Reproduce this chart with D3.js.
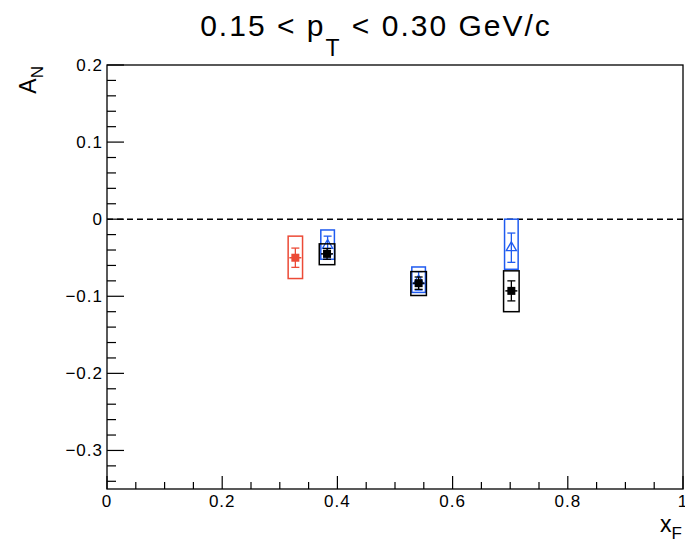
<!DOCTYPE html>
<html>
<head>
<meta charset="utf-8">
<script src="https://cdn.jsdelivr.net/npm/d3@7"></script>
<style>
  body { margin: 0; background: #fff; }
  svg text { font-family: "Liberation Sans", Arial, sans-serif; fill: #000; }
</style>
</head>
<body>
<main></main>
<script>
// x_F bins and A_N values
const redX = [0.327];
const redY = [-0.050];
const redStat = [0.0125];
const redSysTop = [-0.022];
const redSysBot = [-0.077];

const blueX = [0.383, 0.541, 0.702];
const blueY = [-0.034, -0.080, -0.037];
const blueStat = [0.012, 0.012, 0.019];
const blueSysTop = [-0.014, -0.062, 0.0];
const blueSysBot = [-0.052, -0.095, -0.065];

const blackX = [0.382, 0.541, 0.702];
const blackY = [-0.045, -0.083, -0.093];
const blackStat = [0.007, 0.008, 0.013];
const blackSysTop = [-0.032, -0.068, -0.067];
const blackSysBot = [-0.059, -0.099, -0.120];

const xTicks = [0, 0.2, 0.4, 0.6, 0.8, 1];
const yTicks = [-0.3, -0.2, -0.1, 0, 0.1, 0.2];

const margin = { top: 65, right: 2, bottom: 53, left: 107 };
const width = 685 - margin.left - margin.right;
const height = 542 - margin.top - margin.bottom;

const svg = d3.select('main').append('svg')
  .attr('width', 685)
  .attr('height', 542);

const g = svg.append('g')
  .attr('transform', `translate(${margin.left}, ${margin.top})`);

const x = d3.scaleLinear().domain([0, 1]).range([0, width]);
const y = d3.scaleLinear().domain([-0.35, 0.2]).range([height, 0]);

// frame
g.append('rect')
  .attr('width', width)
  .attr('height', height)
  .attr('fill', 'none')
  .attr('stroke', '#000')
  .attr('stroke-width', 1.3);

// x ticks (inside, pointing up)
const xMinor = d3.range(0, 1.0001, 0.05);
g.selectAll('.xtick').data(xMinor).enter().append('line')
  .attr('x1', (d) => x(d)).attr('x2', (d) => x(d))
  .attr('y1', height)
  .attr('y2', (d, i) => height - (i % 4 === 0 ? 13 : 7))
  .attr('stroke', '#000').attr('stroke-width', 1.2);

g.selectAll('.xlabel').data(xTicks).enter().append('text')
  .attr('x', (d) => x(d))
  .attr('y', height + 18)
  .attr('text-anchor', 'middle')
  .attr('font-size', 17)
  .attr('letter-spacing', 1)
  .text((d) => d3.format('~g')(d));

// y ticks (inside, pointing right)
const yMinor = d3.range(-0.34, 0.2001, 0.02);
g.selectAll('.ytick').data(yMinor).enter().append('line')
  .attr('x1', 0)
  .attr('x2', (d) => (Math.abs(Math.round(d * 100) % 10) === 0 ? 17 : 9))
  .attr('y1', (d) => y(d)).attr('y2', (d) => y(d))
  .attr('stroke', '#000').attr('stroke-width', 1.2);

g.selectAll('.ylabel').data(yTicks).enter().append('text')
  .attr('x', -4)
  .attr('y', (d) => y(d) + 6)
  .attr('text-anchor', 'end')
  .attr('font-size', 17)
  .attr('letter-spacing', 1)
  .text((d) => (d < 0 ? '\u2212' + d3.format('~g')(-d) : d3.format('~g')(d)));

// zero line
g.append('line')
  .attr('x1', 0).attr('x2', width)
  .attr('y1', y(0)).attr('y2', y(0))
  .attr('stroke', '#000')
  .attr('stroke-width', 1.5)
  .attr('stroke-dasharray', '6,4');

function drawSeries(xs, ys, stat, sysTop, sysBot, color, halfW, marker) {
  const data = xs.map((d, i) => ({ x: d, y: ys[i], s: stat[i], top: sysTop[i], bot: sysBot[i] }));
  const s = g.append('g');

  // systematic boxes
  s.selectAll('.sys').data(data).enter().append('rect')
    .attr('x', (d) => x(d.x - halfW))
    .attr('width', (d) => x(d.x + halfW) - x(d.x - halfW))
    .attr('y', (d) => y(d.top))
    .attr('height', (d) => y(d.bot) - y(d.top))
    .attr('fill', 'none')
    .attr('stroke', color)
    .attr('stroke-width', 1.5);

  // stat error bars with caps
  s.selectAll('.err').data(data).enter().append('line')
    .attr('x1', (d) => x(d.x)).attr('x2', (d) => x(d.x))
    .attr('y1', (d) => y(d.y + d.s)).attr('y2', (d) => y(d.y - d.s))
    .attr('stroke', color).attr('stroke-width', 1.3);
  [1, -1].forEach((k) => {
    s.selectAll('.cap').data(data).enter().append('line')
      .attr('x1', (d) => x(d.x) - 4).attr('x2', (d) => x(d.x) + 4)
      .attr('y1', (d) => y(d.y + k * d.s)).attr('y2', (d) => y(d.y + k * d.s))
      .attr('stroke', color).attr('stroke-width', 1.3);
  });

  if (marker === 'square') {
    // ROOT-style x error bar across the marker
    s.selectAll('.xerr').data(data).enter().append('line')
      .attr('x1', (d) => x(d.x) - 6).attr('x2', (d) => x(d.x) + 6)
      .attr('y1', (d) => y(d.y)).attr('y2', (d) => y(d.y))
      .attr('stroke', color).attr('stroke-width', 1.5);
    s.selectAll('.mk').data(data).enter().append('rect')
      .attr('x', (d) => x(d.x) - 4)
      .attr('y', (d) => y(d.y) - 4)
      .attr('width', 8).attr('height', 8)
      .attr('fill', color);
  } else {
    s.selectAll('.mk').data(data).enter().append('path')
      .attr('d', d3.symbol().type(d3.symbolTriangle).size(45))
      .attr('transform', (d) => `translate(${x(d.x)}, ${y(d.y)})`)
      .attr('fill', 'none')
      .attr('stroke', color)
      .attr('stroke-width', 1.3);
  }
}

drawSeries(redX, redY, redStat, redSysTop, redSysBot, '#ec4a36', 0.0125, 'square');
drawSeries(blueX, blueY, blueStat, blueSysTop, blueSysBot, '#1f5bf0', 0.0118, 'triangle');
drawSeries(blackX, blackY, blackStat, blackSysTop, blackSysBot, '#000', 0.0135, 'square');

// title
const title = svg.append('text')
  .attr('x', 376)
  .attr('y', 36)
  .attr('text-anchor', 'middle')
  .attr('font-size', 30)
  .attr('letter-spacing', 2);
title.append('tspan').text('0.15 < p');
title.append('tspan').attr('dy', 20).attr('font-size', 23).text('T');
title.append('tspan').attr('dy', -20).text(' < 0.30 GeV/c');

// axis titles
const yTitle = svg.append('text')
  .attr('transform', 'translate(36, 66) rotate(-90)')
  .attr('text-anchor', 'end')
  .attr('font-size', 23);
yTitle.append('tspan').text('A');
yTitle.append('tspan').attr('dy', 7).attr('font-size', 17).text('N');

const xTitle = svg.append('text')
  .attr('x', 682)
  .attr('y', 532)
  .attr('text-anchor', 'end')
  .attr('font-size', 23);
xTitle.append('tspan').text('x');
xTitle.append('tspan').attr('dy', 7).attr('font-size', 17).text('F');
</script>
</body>
</html>
